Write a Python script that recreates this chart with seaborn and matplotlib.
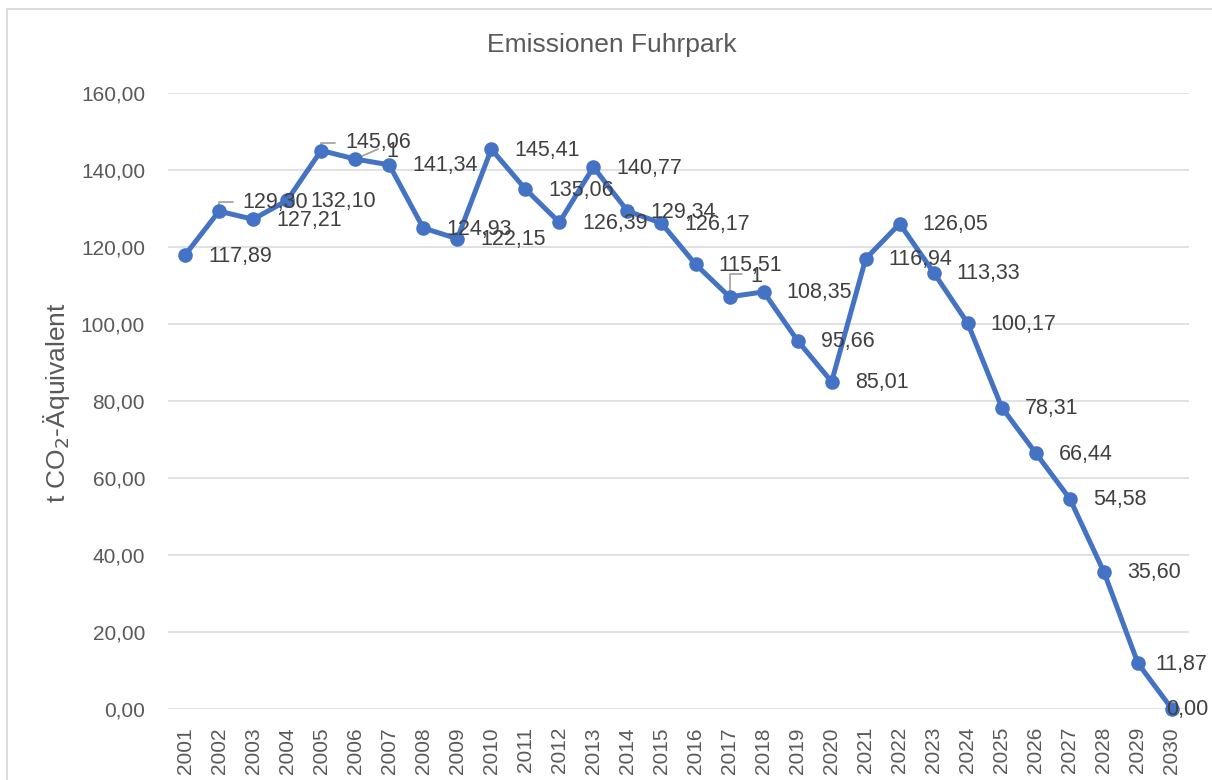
import numpy as np
import pandas as pd
import matplotlib
matplotlib.use("Agg")
import matplotlib.pyplot as plt
import seaborn as sns
from matplotlib.patches import Rectangle

# ---------------- data ----------------
years = list(range(2001, 2031))
emissions = [117.89, 129.30, 127.21, 132.10, 145.06, 142.85, 141.34, 124.93, 122.15, 145.41,
             135.06, 126.39, 140.77, 129.34, 126.17, 115.51, 107.05, 108.35, 95.66, 85.01,
             116.94, 126.05, 113.33, 100.17, 78.31, 66.44, 54.58, 35.60, 11.87, 0.00]
# label texts as shown in the chart (two labels are truncated to "1")
label_override = {2006: "1", 2017: "1"}
y_ticks = [0, 20, 40, 60, 80, 100, 120, 140, 160]

title = "Emissionen Fuhrpark"
ylabel = "t CO$_2$-Äquivalent"

# ---------------- style ----------------
sns.set_style("white")
plt.rcParams["font.family"] = ["Liberation Sans", "DejaVu Sans"]

W, H = 1212, 780
fig = plt.figure(figsize=(W / 100, H / 100), dpi=100)
ax = fig.add_axes([168 / W, (H - 709) / H, (1189 - 168) / W, (709 - 93) / H])

df = pd.DataFrame({"year": years, "value": emissions})
line_col = "#4472C4"
sns.lineplot(data=df, x="year", y="value", ax=ax, color=line_col, linewidth=3.6,
             marker="o", markersize=10.5, markeredgewidth=0, clip_on=False, zorder=3)

ax.set_xlim(years[0] - 0.5, years[-1] + 0.5)
ax.set_ylim(y_ticks[0], y_ticks[-1])
ax.set_yticks(y_ticks)
ax.set_yticklabels([f"{v:.2f}".replace(".", ",") for v in y_ticks])
ax.set_xticks(years)
ax.set_xticklabels([str(y) for y in years])
ax.grid(axis="y", color="#D9D9D9", linewidth=1.1)
ax.grid(axis="x", visible=False)
for s in ax.spines.values():
    s.set_visible(False)
ax.tick_params(axis="y", length=0, pad=16.5, labelsize=15, labelcolor="#595959")
ax.tick_params(axis="x", length=0, pad=13, labelsize=15, labelcolor="#595959",
               labelrotation=90)
ax.set_xlabel("")
ax.set_ylabel("")

# ---------------- data labels ----------------
px = 0.72  # points per pixel at 100 dpi
default_off = (23, 1)
special_off = {2002: (23, -9), 2005: (24, -8), 2006: (31, -8), 2017: (21, -20),
               2029: (17, 1), 2030: (-6, 0)}
leaders = {2002: ((14, -9), "angle"), 2005: ((14, -8), "angle"),
           2006: ((23, -10), "straight"), 2017: ((12, -23), "angle")}

for yr, v in zip(years, emissions):
    txt = label_override.get(yr, f"{v:.2f}".replace(".", ","))
    dx, dy = special_off.get(yr, default_off)
    ax.annotate(txt, xy=(yr, v), xytext=(dx * px, -dy * px), textcoords="offset points",
                ha="left", va="center", fontsize=15.5, color="#404040", zorder=5,
                annotation_clip=False)
    if yr in leaders:
        (lx, ly), kind = leaders[yr]
        cs = "angle,angleA=0,angleB=90,rad=0" if kind == "angle" else "arc3"
        ax.annotate("", xy=(yr, v), xytext=(lx * px, -ly * px), textcoords="offset points",
                    arrowprops=dict(arrowstyle="-", color="#A6A6A6", lw=1.3,
                                    shrinkA=0, shrinkB=0, connectionstyle=cs),
                    zorder=2, annotation_clip=False)

# ---------------- title, y label, border ----------------
fig.text(612 / W, 1 - 45 / H, title, ha="center", va="center", fontsize=19, color="#595959")
fig.text(57 / W, 1 - 403 / H, ylabel, ha="center", va="center", rotation=90,
         fontsize=19, color="#595959")
fig.add_artist(Rectangle((7 / W, -0.05), 1.1, 1.05 - 9 / H, transform=fig.transFigure,
                         fill=False, edgecolor="#D9D9D9", linewidth=1.3, clip_on=False))

fig.savefig("out.png", dpi=100)
